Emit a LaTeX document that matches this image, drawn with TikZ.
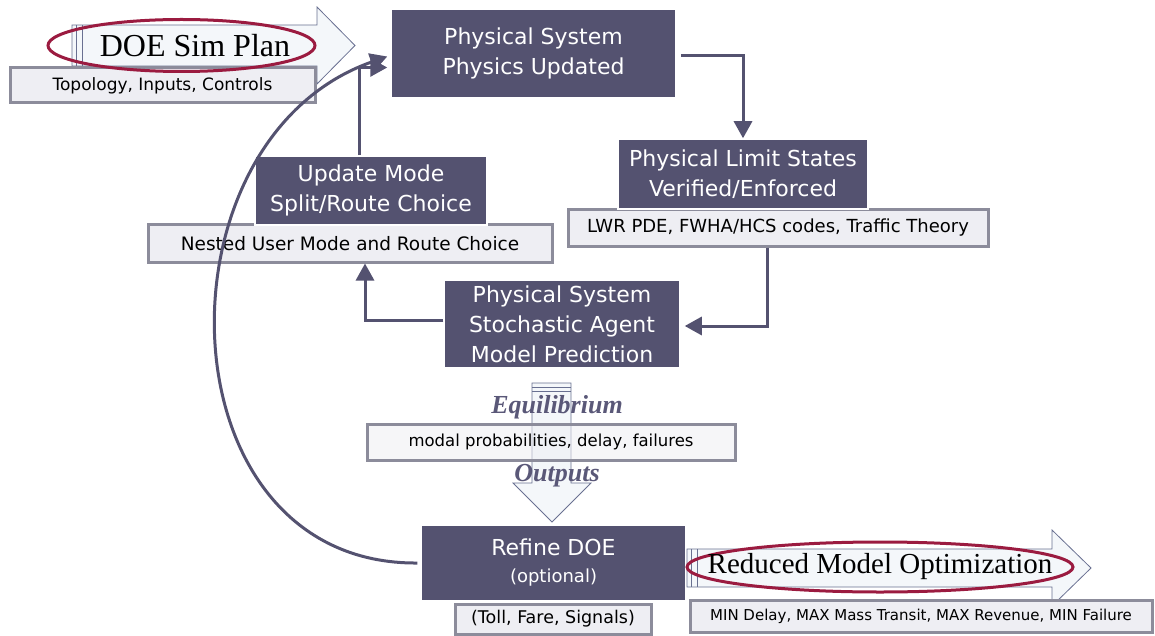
\documentclass[tikz,border=0pt]{standalone}
\usepackage{fontspec}
\setmainfont{Liberation Serif}
\newfontfamily\boxfont{DejaVu Sans}
\usetikzlibrary{arrows.meta}
\definecolor{BoxClr}{RGB}{84,82,112}
\definecolor{LabelFill}{RGB}{238,238,243}
\definecolor{LabelLine}{RGB}{140,140,155}
\definecolor{RingClr}{RGB}{155,27,64}
\definecolor{ArrowFill}{RGB}{244,247,250}
\definecolor{ArrowLine}{RGB}{105,112,145}
\definecolor{EqClr}{RGB}{90,88,120}

\begin{document}
\begin{tikzpicture}[x=1pt,y=-1pt,
  darkbox/.style={fill=BoxClr,draw=white,line width=1.5pt,text=white,align=center,
    inner sep=0pt,font=\boxfont\fontsize{22}{30}\selectfont},
  graybox/.style={fill=LabelFill,draw=LabelLine,line width=3pt,inner sep=0pt,
    font=\boxfont\fontsize{#1}{18}\selectfont},
  graybox/.default=17,
  flow/.style={draw=BoxClr,line width=3pt,-{Triangle[length=17pt,width=18pt]}},
  bigarrow/.style={fill=ArrowFill,draw=ArrowLine,line width=0.8pt},
  ring/.style={draw=RingClr,line width=3pt},
  bigtext/.style={inner sep=0pt,font=\fontsize{32}{32}\selectfont},
  eqtext/.style={inner sep=0pt,text=EqClr,font=\bfseries\itshape\fontsize{26}{26}\selectfont}]
\useasboundingbox (0,0) rectangle (1155,636);

% DOE sim plan arrow
\draw[bigarrow] (72,25) -- (317,25) -- (317,7) -- (355,45.5) -- (317,84)
  -- (317,66) -- (72,66) -- cycle;
\draw[ArrowLine,line width=0.8pt] (76,25) -- (76,66) (82,25) -- (82,66);
\node[graybox=17,minimum width=305,minimum height=35] (topo) at (162.5,85.5)
  {Topology, Inputs, Controls};
\draw[ring] (181.5,45.5) ellipse [x radius=133.5,y radius=26];
\node[bigtext] (doe) at (195,46) {DOE Sim Plan};

% gray labels
\node[graybox=18,minimum width=420,minimum height=36] (lwr) at (778,228)
  {LWR PDE, FWHA/HCS codes, Traffic Theory};
\node[graybox=18.5,minimum width=404,minimum height=37] (nested) at (350,243.5)
  {Nested User Mode and Route Choice};
\node[graybox=17.5,minimum width=196,minimum height=30] (toll) at (553,619)
  {(Toll, Fare, Signals)};

% dark boxes
\node[darkbox,minimum width=285,minimum height=88] (phys) at (533.5,53.5)
  {Physical System\\Physics Updated};
\node[darkbox,minimum width=250,minimum height=70] (limit) at (743,174)
  {Physical Limit States\\Verified/Enforced};
\node[darkbox,minimum width=232,minimum height=69] (update) at (371,190.5)
  {Update Mode\\Split/Route Choice};
\node[darkbox,minimum width=236,minimum height=87] (agent) at (562,324)
  {Physical System\\Stochastic Agent\\Model Prediction};
\node[darkbox,minimum width=265,minimum height=75] (refine) at (553.5,563)
  {Refine DOE\\[-3pt]{\fontsize{18}{20}\selectfont(optional)}};

% equilibrium outputs arrow
\draw[bigarrow] (532,383) -- (571,383) -- (571,483) -- (591,483)
  -- (552,522) -- (513,483) -- (532,483) -- cycle;
\draw[ArrowLine,line width=0.8pt] (532,387) -- (571,387) (532,391) -- (571,391);
\node[graybox=16.5,fill opacity=0.55,text opacity=1,minimum width=368,minimum height=36]
  (modal) at (551,442) {modal probabilities, delay, failures};
\node[eqtext] (equil) at (557,407) {Equilibrium};
\node[eqtext] (outp) at (557,476) {Outputs};

% reduced model optimization arrow
\draw[bigarrow] (687,549) -- (1052,549) -- (1052,530) -- (1091,568) -- (1052,606)
  -- (1052,587) -- (687,587) -- cycle;
\draw[ArrowLine,line width=0.8pt] (691,549) -- (691,587) (697,549) -- (697,587);
\node[graybox=15,minimum width=462,minimum height=32] (minmax) at (921,616)
  {MIN Delay, MAX Mass Transit, MAX Revenue, MIN Failure};
\draw[ring] (880,567) ellipse [x radius=193,y radius=25];
\node[bigtext,font=\fontsize{29}{29}\selectfont] (rmo) at (880,567)
  {Reduced Model Optimization};

% connectors
\draw[flow] ([xshift=4pt,yshift=-2pt]phys.east) -| (limit.north);
\draw[flow] ([xshift=-11pt]lwr.south) |- ([xshift=4pt,yshift=-2pt]agent.east);
\draw[flow] ([yshift=4pt]agent.west) -| ([xshift=15pt]nested.south);
\draw[flow] ([xshift=-12pt]update.north) |- ([xshift=-3pt,yshift=-14pt]phys.west);
\draw[flow] ([xshift=-3pt]refine.west) .. controls (160,565) and (150,140) ..
  ([xshift=-3pt,yshift=-3pt]phys.west);

\end{tikzpicture}
\end{document}
